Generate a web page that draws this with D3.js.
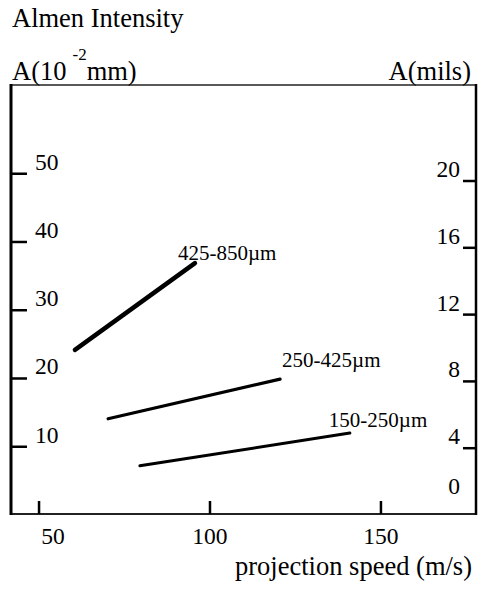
<!DOCTYPE html>
<html>
<head>
<meta charset="utf-8">
<script src="https://cdn.jsdelivr.net/npm/d3@7"></script>
<style>
  html, body { margin: 0; padding: 0; background: #fff; }
  svg { display: block; }
  text { font-family: "Liberation Serif", "Times New Roman", serif; fill: #000; }
</style>
</head>
<body>
<svg id="chart" width="484" height="589"></svg>
<script>
// ---- data ----
const seriesNames = ["425-850µm", "250-425µm", "150-250µm"];
const seriesSpeed = [[60.5, 95.6], [70.2, 120.5], [79.5, 140.9]];      // m/s
const seriesIntensity = [[24.2, 36.9], [14.1, 19.9], [7.2, 12.0]];      // 10^-2 mm
const seriesWidth = [4.5, 3.2, 3.0];
const xTicks = [50, 100, 150];
const yLeftTicks = [10, 20, 30, 40, 50];
const yRightTicks = [0, 4, 8, 12, 16, 20];

// ---- layout ----
const svg = d3.select("#chart");
const L = 11, R = 476, T = 85, B = 514;

const x = d3.scaleLinear().domain([41.8, 177.8]).range([L, R]);
const yL = d3.scaleLinear().domain([0, 63]).range([515, T]);
const yR = d3.scaleLinear().domain([0, 25.75]).range([515, T]);

// frame
svg.append("line").attr("x1", L).attr("x2", R).attr("y1", T).attr("y2", T)
  .attr("stroke", "#222").attr("stroke-width", 1.6);
svg.append("line").attr("x1", L).attr("x2", R).attr("y1", B).attr("y2", B)
  .attr("stroke", "#222").attr("stroke-width", 2);
svg.append("line").attr("x1", L).attr("x2", L).attr("y1", T - 1).attr("y2", B + 1)
  .attr("stroke", "#000").attr("stroke-width", 3);
svg.append("line").attr("x1", R).attr("x2", R).attr("y1", T - 1).attr("y2", B + 1)
  .attr("stroke", "#000").attr("stroke-width", 2.5);

// left axis ticks (inward)
const gl = svg.append("g");
gl.selectAll("line").data(yLeftTicks).join("line")
  .attr("x1", L).attr("x2", L + 16)
  .attr("y1", d => yL(d)).attr("y2", d => yL(d))
  .attr("stroke", "#000").attr("stroke-width", 2.5);
gl.selectAll("text").data(yLeftTicks).join("text")
  .attr("x", L + 24).attr("y", d => yL(d) - 4)
  .attr("font-size", 23.5).text(d => d);

// right axis ticks (inward)
const gr = svg.append("g");
gr.selectAll("line").data(yRightTicks.filter(d => d > 0)).join("line")
  .attr("x1", R - 13).attr("x2", R)
  .attr("y1", d => yR(d)).attr("y2", d => yR(d))
  .attr("stroke", "#000").attr("stroke-width", 2.5);
gr.selectAll("text").data(yRightTicks).join("text")
  .attr("x", R - 16).attr("y", d => Math.min(yR(d) - 4, yR(0) - 21))
  .attr("text-anchor", "end").attr("font-size", 23.5).text(d => d);

// bottom axis ticks (inward)
const gb = svg.append("g");
gb.selectAll("line").data(xTicks).join("line")
  .attr("x1", d => x(d)).attr("x2", d => x(d))
  .attr("y1", B).attr("y2", B - 13)
  .attr("stroke", "#000").attr("stroke-width", 2.5);
gb.selectAll("text").data(xTicks).join("text")
  .attr("x", (d, i) => x(d) + (i === 0 ? 14 : 0)).attr("y", 544)
  .attr("text-anchor", "middle").attr("font-size", 23.5).text(d => d);

// titles
svg.append("text").attr("x", 12).attr("y", 27).attr("font-size", 26.5).text("Almen Intensity");
const ly = svg.append("text").attr("x", 12).attr("y", 80).attr("font-size", 26.5);
ly.append("tspan").text("A(10");
ly.append("tspan").attr("dx", 6).attr("dy", -20).attr("font-size", 17).text("-2");
ly.append("tspan").attr("dy", 20).text("mm)");
svg.append("text").attr("x", 471).attr("y", 80).attr("text-anchor", "end")
  .attr("font-size", 26.5).text("A(mils)");
svg.append("text").attr("x", 472).attr("y", 575).attr("text-anchor", "end")
  .attr("font-size", 26.5).text("projection speed (m/s)");

// series lines
const line = d3.line().x(d => x(d[0])).y(d => yL(d[1]));
seriesNames.forEach((name, i) => {
  const pts = seriesSpeed[i].map((s, j) => [s, seriesIntensity[i][j]]);
  svg.append("path").datum(pts).attr("d", line)
    .attr("fill", "none").attr("stroke", "#000")
    .attr("stroke-width", seriesWidth[i]).attr("stroke-linecap", "round");
});

// series labels (placed near the end of each line)
const labelOffsetX = [-17, 2, -21];
const labelOffsetY = [-3, -12, -6];
svg.append("g").selectAll("text").data(seriesNames).join("text")
  .attr("x", (d, i) => x(seriesSpeed[i][1]) + labelOffsetX[i])
  .attr("y", (d, i) => yL(seriesIntensity[i][1]) + labelOffsetY[i])
  .attr("font-size", 21).text(d => d);
</script>
</body>
</html>
